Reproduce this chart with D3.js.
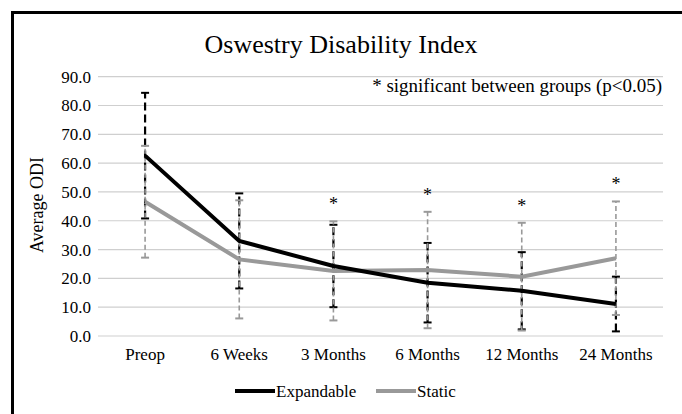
<!DOCTYPE html>
<html>
<head>
<meta charset="utf-8">
<script src="https://cdn.jsdelivr.net/npm/d3@7"></script>
<style>
  body { margin: 0; background: #fff; }
  svg text { font-family: "Liberation Serif", "Times New Roman", Times, serif; fill: #000; }
</style>
</head>
<body>
<svg id="drawing_region"></svg>
<script>
const categories = ['Preop', '6 Weeks', '3 Months', '6 Months', '12 Months', '24 Months'];
const expandable = [62.6, 33.0, 24.3, 18.5, 15.7, 11.1];
const expandableErr = [21.8, 16.5, 14.3, 13.8, 13.4, 9.5];
const staticMean = [46.6, 26.6, 22.6, 22.9, 20.6, 27.0];
const staticErr = [19.4, 20.5, 17.2, 20.2, 18.7, 19.7];
const significant = [false, false, true, true, true, true];
const yTicks = [0, 10, 20, 30, 40, 50, 60, 70, 80, 90];

const width = 682, height = 414;
const svg = d3.select('#drawing_region')
    .attr('width', width)
    .attr('height', height);

// outer frame, bottom edge is cut off in the original
svg.append('path')
    .attr('d', `M12.5,${height} V12.5 H${width}`)
    .attr('fill', 'none')
    .attr('stroke', '#000')
    .attr('stroke-width', 3);

const x = d3.scaleBand()
    .domain(categories)
    .range([98, 663]);

const y = d3.scaleLinear()
    .domain([0, 90])
    .range([336, 76.7]);

const cx = d => x(d) + x.bandwidth() / 2;

// gridlines
svg.append('g')
    .selectAll('line')
    .data(yTicks)
    .enter()
    .append('line')
    .attr('x1', 98)
    .attr('x2', 663)
    .attr('y1', d => y(d))
    .attr('y2', d => y(d))
    .attr('stroke', '#cfcfcf')
    .attr('stroke-width', 1.2);

// y axis labels
const yAxis = d3.axisLeft(y)
    .tickValues(yTicks)
    .tickFormat(d3.format('.1f'))
    .tickSize(0)
    .tickPadding(7);
const yg = svg.append('g')
    .attr('transform', 'translate(98,0)')
    .call(yAxis);
yg.select('.domain').remove();
yg.selectAll('text')
    .style('font-size', '17px');

// x axis labels
const xAxis = d3.axisBottom(x).tickSize(0).tickPadding(12);
const xg = svg.append('g')
    .attr('transform', 'translate(0,336)')
    .call(xAxis);
xg.select('.domain').remove();
xg.selectAll('text')
    .style('font-size', '17px');

// error bars
function errorBars(means, errs, color, dash, width) {
    const g = svg.append('g');
    const rows = categories.map((c, i) => ({ c: c, lo: means[i] - errs[i], hi: means[i] + errs[i] }));
    g.selectAll('line.bar')
        .data(rows)
        .enter()
        .append('line')
        .attr('x1', d => cx(d.c))
        .attr('x2', d => cx(d.c))
        .attr('y1', d => y(Math.max(d.lo, 0)))
        .attr('y2', d => y(d.hi))
        .attr('stroke', color)
        .attr('stroke-width', width)
        .attr('stroke-dasharray', dash);
    ['lo', 'hi'].forEach(k => {
        g.selectAll('line.cap' + k)
            .data(rows)
            .enter()
            .append('line')
            .attr('x1', d => cx(d.c) - 4)
            .attr('x2', d => cx(d.c) + 4)
            .attr('y1', d => y(Math.max(d[k], 0)))
            .attr('y2', d => y(Math.max(d[k], 0)))
            .attr('stroke', color)
            .attr('stroke-width', 2);
    });
}
errorBars(expandable, expandableErr, '#000', '8,4', 2.2);
errorBars(staticMean, staticErr, '#999', '5,3', 1.6);

// lines
const line = d3.line()
    .x((d, i) => cx(categories[i]))
    .y(d => y(d));

svg.append('path')
    .datum(staticMean)
    .attr('d', line)
    .attr('fill', 'none')
    .attr('stroke', '#999')
    .attr('stroke-width', 4);

svg.append('path')
    .datum(expandable)
    .attr('d', line)
    .attr('fill', 'none')
    .attr('stroke', '#000')
    .attr('stroke-width', 4);

// significance stars
svg.append('g')
    .selectAll('text')
    .data(categories.filter((c, i) => significant[i]))
    .enter()
    .append('text')
    .attr('x', c => cx(c))
    .attr('y', c => {
        const i = categories.indexOf(c);
        const top = Math.max(expandable[i] + expandableErr[i], staticMean[i] + staticErr[i]);
        return y(top) - 11;
    })
    .attr('text-anchor', 'middle')
    .style('font-size', '18px')
    .text('*');

// title
svg.append('text')
    .attr('x', 341)
    .attr('y', 53)
    .attr('text-anchor', 'middle')
    .style('font-size', '26px')
    .text('Oswestry Disability Index');

// note
svg.append('text')
    .attr('x', 662)
    .attr('y', 92)
    .attr('text-anchor', 'end')
    .style('font-size', '19px')
    .text('* significant between groups (p<0.05)');

// y title
svg.append('text')
    .attr('transform', 'translate(43,205) rotate(-90)')
    .attr('text-anchor', 'middle')
    .style('font-size', '18px')
    .text('Average ODI');

// legend
const legend = [
    { name: 'Expandable', color: '#000', x: 235 },
    { name: 'Static', color: '#999', x: 376 }
];
const lg = svg.append('g')
    .selectAll('g')
    .data(legend)
    .enter()
    .append('g')
    .attr('transform', d => `translate(${d.x},391)`);
lg.append('line')
    .attr('x1', 0)
    .attr('x2', 40)
    .attr('stroke', d => d.color)
    .attr('stroke-width', 4);
lg.append('text')
    .attr('x', 41)
    .attr('y', 6)
    .style('font-size', '17px')
    .text(d => d.name);
</script>
</body>
</html>
